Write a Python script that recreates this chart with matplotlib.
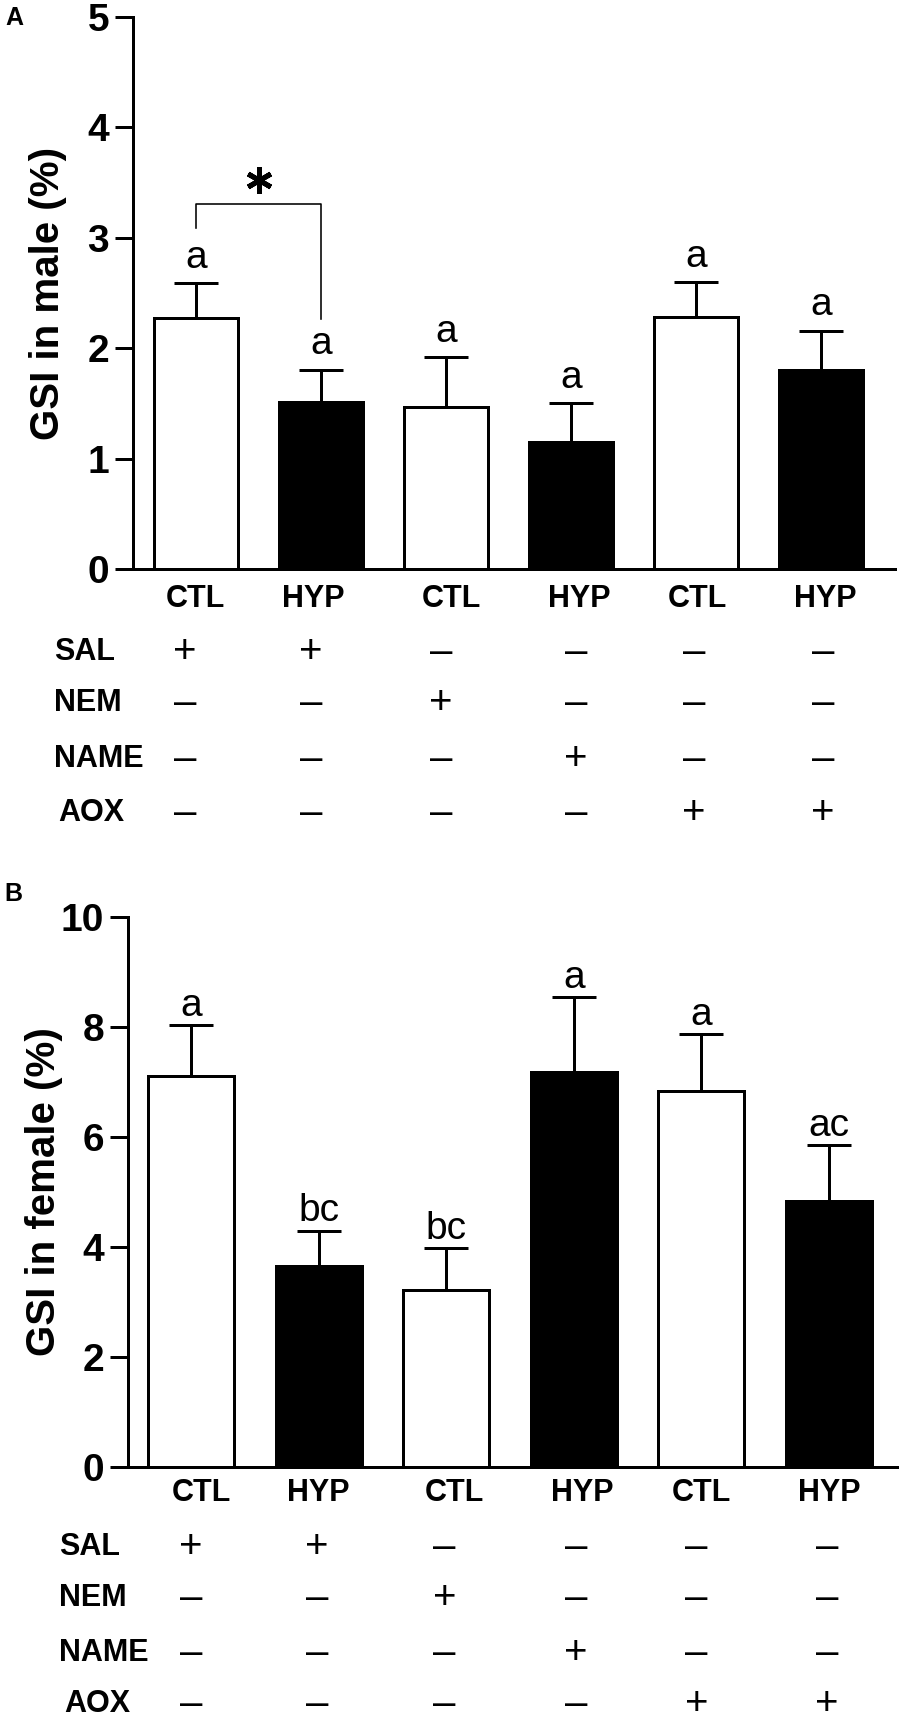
import numpy as np
import matplotlib
matplotlib.use("Agg")
import matplotlib.pyplot as plt
from matplotlib import font_manager

names = {f.name for f in font_manager.fontManager.ttflist}
SANS = 'Liberation Sans' if 'Liberation Sans' in names else 'DejaVu Sans'

# ---- data ----
groups = ['CTL', 'HYP', 'CTL', 'HYP', 'CTL', 'HYP']
bar_colors = ['white', 'black', 'white', 'black', 'white', 'black']

male_mean = [2.27, 1.515, 1.47, 1.15, 2.28, 1.80]
male_sem = [0.32, 0.29, 0.45, 0.35, 0.32, 0.36]
male_letters = ['a', 'a', 'a', 'a', 'a', 'a']

female_mean = [7.11, 3.66, 3.22, 7.19, 6.84, 4.84]
female_sem = [0.92, 0.64, 0.77, 1.36, 1.03, 1.01]
female_letters = ['a', 'bc', 'bc', 'a', 'a', 'ac']

treatments = ['SAL', 'NEM', 'NAME', 'AOX']
signs = [
    ['+', '+', '–', '–', '–', '–'],
    ['–', '–', '+', '–', '–', '–'],
    ['–', '–', '–', '+', '–', '–'],
    ['–', '–', '–', '–', '+', '+'],
]

W, H, DPI = 900, 1723, 100
PT = 72.0 / DPI  # points per pixel

fig = plt.figure(figsize=(W / DPI, H / DPI), dpi=DPI)


def px_axes(left, right, top, bottom):
    return fig.add_axes([left / W, 1 - bottom / H, (right - left) / W, (bottom - top) / H])


def draw_panel(ax, means, sems, letters, ylabel, ymax, ystep, xlim, letter_pad,
               label_x, row_x, row_dy, group_dx, sign_dx):
    x = np.arange(len(means))
    lw = 3 * PT
    ax.bar(x, means, width=0.672, color=bar_colors, edgecolor='black', linewidth=lw, zorder=3)
    ax.errorbar(x, means, yerr=[np.zeros(len(sems)), sems], fmt='none', ecolor='black',
                elinewidth=lw, capsize=22 * PT, capthick=lw, zorder=2)
    for xi, m, s, lab in zip(x, means, sems, letters):
        ax.annotate(lab, xy=(xi, m + s), xytext=(0, letter_pad), textcoords='offset points',
                    ha='center', va='baseline', fontsize=28, family=SANS)

    ticks = np.arange(0, ymax + 0.01, ystep)
    ax.set_xlim(*xlim)
    ax.set_ylim(0, ymax)
    ax.set_yticks(ticks)
    ax.set_yticklabels([f'{v:g}' for v in ticks], fontsize=28, fontweight='bold', family=SANS)
    ax.tick_params(axis='y', direction='out', length=18 * PT, width=lw, pad=6 * PT)
    ax.tick_params(axis='x', bottom=False, labelbottom=False)
    for side in ['top', 'right']:
        ax.spines[side].set_visible(False)
    for side in ['left', 'bottom']:
        ax.spines[side].set_linewidth(lw)
    ax.set_ylabel(ylabel, fontsize=29, fontweight='bold', family=SANS)
    ax.yaxis.set_label_coords(label_x, 0.5)

    # group / treatment table below the axis
    for xi, g, dx in zip(x, groups, group_dx):
        ax.annotate(g, xy=(xi, 0), xycoords=('data', 'axes fraction'),
                    xytext=(dx * PT, row_dy[0] * PT), textcoords='offset points',
                    ha='center', va='center', fontsize=22, fontweight='bold', family=SANS)
    for r, (name, row) in enumerate(zip(treatments, signs)):
        dy = row_dy[r + 1] * PT
        ax.annotate(name, xy=(0, 0), xycoords='axes fraction',
                    xytext=(row_x[r] * PT, dy), textcoords='offset points',
                    ha='left', va='center', fontsize=22, fontweight='bold', family=SANS)
        for xi, s, dx in zip(x, row, sign_dx):
            ax.annotate(s, xy=(xi, 0), xycoords=('data', 'axes fraction'),
                        xytext=(dx * PT, dy), textcoords='offset points',
                        ha='center', va='center', fontsize=29, family=SANS)


# panel A (male)
axA = px_axes(133, 895, 17, 569)
draw_panel(axA, male_mean, male_sem, male_letters, 'GSI in male (%)', 5, 1,
           (-0.504, 5.59), 11, -0.086,
           row_x=[54 - 133, 54 - 133, 54 - 133, 58 - 133],
           row_dy=[-30, -83, -134, -190, -244],
           group_dx=[-1, -8, 5, 8, 1, 4],
           sign_dx=[-11, -10, -5, 5, -2, 2])

# significance bracket between the first two male bars
br_top, br_left, br_right = 3.31, 3.09, 2.26
axA.plot([0, 0, 1, 1], [br_left, br_top, br_top, br_right], color='black',
         linewidth=1.6 * PT, zorder=4, clip_on=False)
axA.plot([0.5], [3.52], marker=(6, 2, 0), markersize=26 * PT, markeredgewidth=5 * PT,
         color='black', zorder=4)

# panel B (female)
axB = px_axes(128, 897, 917, 1467)
draw_panel(axB, female_mean, female_sem, female_letters, 'GSI in female (%)', 10, 2,
           (-0.496, 5.535), 6.5, -0.084,
           row_x=[59 - 128, 59 - 128, 59 - 128, 64 - 128],
           row_dy=[-26, -80, -131, -186, -237],
           group_dx=[10, -1, 8, 8, 0, 0],
           sign_dx=[0, -2, -2, 2, -5, -2])

fig.text(5 / W, 1 - 6 / H, 'A', ha='left', va='top', fontsize=18, fontweight='bold', family=SANS)
fig.text(4 / W, 1 - 882 / H, 'B', ha='left', va='top', fontsize=18, fontweight='bold', family=SANS)

fig.savefig('out.png', dpi=DPI)
